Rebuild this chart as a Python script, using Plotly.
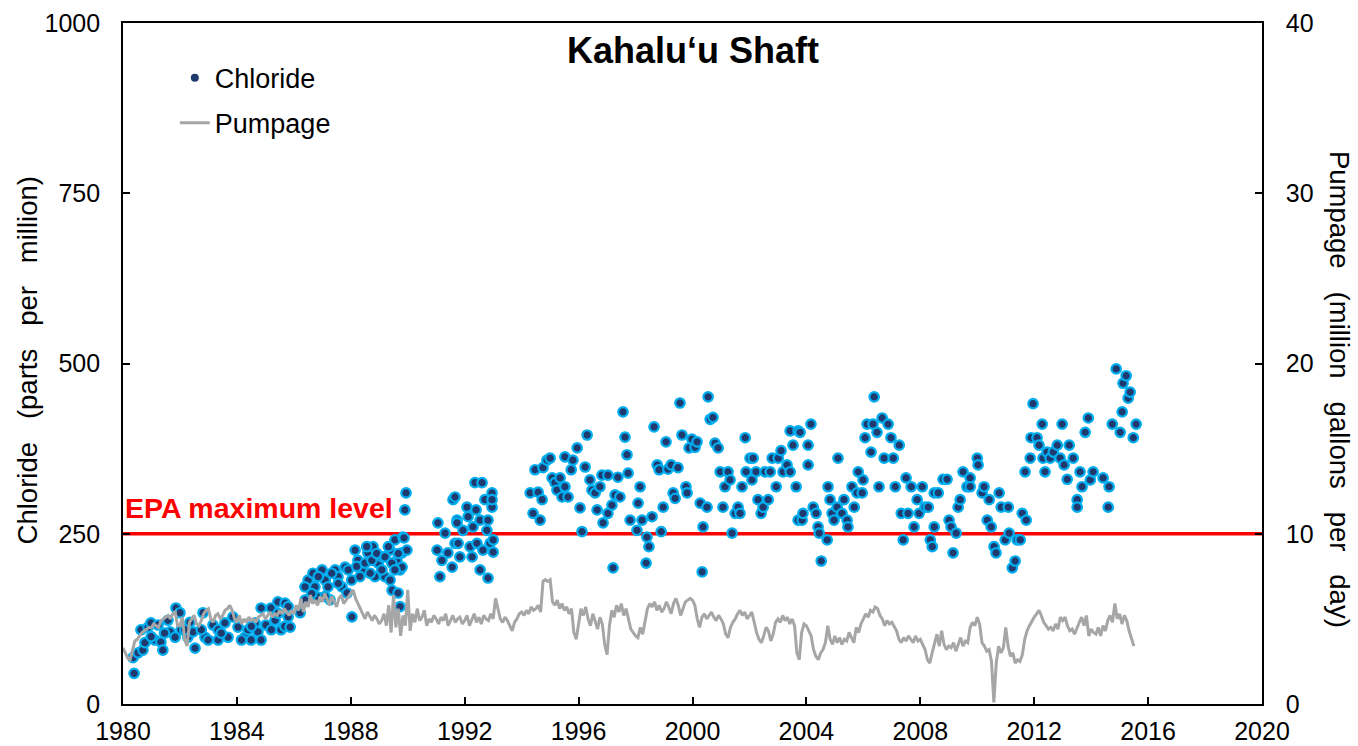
import plotly.graph_objects as go

# ---------------- data ----------------
chloride_year = [
    1980.39, 1980.35, 1980.53, 1980.70, 1980.77, 1980.63, 1980.88, 1980.98, 1981.23, 1981.12,
    1981.33, 1981.40, 1981.58, 1981.65, 1981.83, 1981.86, 1982.00, 1982.04, 1982.28, 1982.35,
    1982.53, 1982.46, 1982.81, 1982.88, 1982.99, 1983.16, 1983.34, 1983.34, 1983.58, 1983.69,
    1983.86, 1984.04, 1984.28, 1984.39, 1984.50, 1984.64, 1984.74, 1984.85, 1984.85, 1985.02,
    1985.20, 1985.34, 1985.44, 1985.55, 1985.69, 1980.99, 1981.46, 1982.17, 1982.75, 1983.45,
    1984.16, 1984.51, 1985.21, 1985.68, 1985.44,
    1985.80, 1985.87, 1985.80, 1986.22, 1986.40, 1986.50, 1986.67, 1986.74, 1986.85, 1986.99,
    1987.10, 1987.20, 1987.27, 1987.45, 1987.55, 1987.69, 1987.80, 1987.87, 1988.04, 1988.15,
    1988.25, 1988.43, 1988.60, 1988.78, 1988.85, 1988.96, 1989.10, 1989.20, 1989.38, 1989.45,
    1989.55, 1989.62, 1989.73, 1989.73, 1989.80, 1989.83, 1989.90, 1989.94, 1989.97, 1989.87,
    1989.80, 1989.66, 1987.33, 1987.56, 1987.91, 1988.03, 1988.21, 1988.32, 1988.50, 1988.68,
    1988.56, 1988.74, 1988.91, 1989.09, 1989.20, 1989.32, 1989.44, 1989.55, 1989.67, 1989.38,
    1986.63, 1986.86, 1986.39, 1987.10,
    1991.06, 1991.03, 1991.13, 1991.20, 1991.31, 1991.41, 1991.56, 1991.59, 1991.73, 1991.66,
    1991.66, 1991.73, 1991.77, 1991.83, 1991.94, 1992.08, 1992.12, 1992.19, 1992.26, 1992.29,
    1992.36, 1992.40, 1992.43, 1992.54, 1992.54, 1992.61, 1992.64, 1992.71, 1992.78, 1992.82,
    1992.82, 1992.89, 1992.96, 1992.96, 1993.00, 1993.00, 1992.96,
    1994.30, 1994.40, 1994.47, 1994.58, 1994.65, 1994.72, 1994.75, 1994.89, 1995.00, 1995.07,
    1995.17, 1995.24, 1995.35, 1995.42, 1995.52, 1995.52, 1995.63, 1995.74, 1995.80, 1995.95,
    1996.05, 1996.12, 1996.23, 1996.30, 1996.40, 1996.47, 1996.58, 1996.65, 1996.75, 1996.82,
    1996.86, 1997.03, 1997.03, 1997.17, 1997.21, 1997.28, 1997.38, 1997.45, 1997.56, 1997.63,
    1997.70, 1997.74, 1997.81,
    1998.05, 1998.16, 1998.09, 1998.23, 1998.40, 1998.47, 1998.37, 1998.58, 1998.65, 1998.76,
    1998.83, 1998.90, 1998.97, 1999.07, 1999.14, 1999.25, 1999.32, 1999.39, 1999.49, 1999.56,
    1999.63, 1999.77, 1999.81, 1999.88, 1999.98, 2000.09, 2000.16, 2000.27, 2000.34, 2000.37,
    2000.51, 2000.55, 2000.62, 2000.72, 2000.79, 2000.90, 2000.97, 2001.07, 2001.14, 2001.25,
    2001.32, 2001.39, 2001.50, 2001.60, 2001.67, 2001.74, 2001.85, 2001.88, 2002.02, 2002.09,
    2002.13, 2002.23, 2002.30, 2002.41, 2002.48, 2002.55, 2002.66, 2002.73, 2002.80, 2002.94,
    2003.01, 2003.11, 2003.18, 2003.32, 2003.43, 2003.43, 2003.53, 2003.64, 2003.71, 2003.71,
    2003.78, 2003.85, 2003.88, 2004.06, 2004.06, 2004.16, 2004.24, 2004.34, 2004.41, 2004.45,
    2004.52, 2004.73, 2004.76, 2004.83, 2004.90, 2004.97, 2005.08, 2005.11, 2005.25, 2005.32,
    2005.43, 2005.46, 2005.60, 2005.68, 2005.78, 2005.82, 2005.96, 2005.99, 2006.06, 2006.13,
    2006.27, 2006.34, 2006.38, 2006.48, 2006.55, 2006.66, 2006.73, 2006.87, 2006.97, 2007.05,
    2007.12, 2007.26, 2007.33, 2007.40, 2007.50, 2007.57, 2007.68, 2007.78, 2007.89, 2007.96,
    2008.07, 2008.17, 2008.28, 2008.35, 2008.42, 2008.49, 2008.49, 2008.63, 2008.80, 2008.94,
    2009.01, 2009.08, 2009.15, 2009.26, 2009.33, 2009.40, 2009.50, 2009.64,
    2009.75, 2009.75, 2010.00, 2010.03, 2010.17, 2010.24, 2010.35, 2010.42, 2010.49, 2010.59,
    2010.66, 2010.77, 2010.84, 2010.98, 2011.09, 2011.12, 2011.23, 2011.33, 2011.40, 2011.51,
    2011.58, 2011.72, 2011.68, 2011.86, 2011.96, 2011.89, 2012.10, 2012.17, 2012.28, 2012.31,
    2012.38, 2012.45, 2012.56, 2012.67, 2012.81, 2012.91, 2012.98, 2013.05, 2013.16, 2013.23,
    2013.37, 2013.51, 2013.51, 2013.61, 2013.68, 2013.79, 2013.90, 2013.97, 2014.07, 2014.42,
    2014.60, 2014.63, 2014.74, 2014.88, 2015.02, 2015.09, 2015.12, 2015.23, 2015.30, 2015.37,
    2015.48, 2015.58,
]

chloride_ppm = [
    45, 68, 75, 79, 90, 109, 113, 119, 116, 94,
    91, 79, 123, 106, 98, 141, 134, 109, 98, 120,
    82, 106, 134, 98, 94, 116, 94, 109, 119, 98,
    128, 113, 98, 109, 94, 119, 106, 141, 94, 116,
    141, 123, 150, 109, 148, 99, 104, 109, 109, 104,
    94, 114, 109, 114, 133,
    143, 113, 128, 134, 153, 182, 192, 172, 157, 197,
    182, 172, 153, 197, 187, 172, 201, 163, 128, 226,
    211, 197, 222, 231, 187, 207, 216, 187, 226, 167,
    241, 211, 143, 197, 222, 245, 285, 310, 226, 244,
    201, 163, 192, 177, 197, 182, 202, 187, 207, 192,
    231, 211, 221, 197, 216, 231, 207, 197, 221, 182,
    162, 187, 172, 158,
    266, 226, 187, 211, 251, 222, 201, 300, 270, 236,
    304, 266, 236, 216, 255, 289, 275, 231, 216, 260,
    325, 285, 236, 270, 197, 325, 226, 300, 255, 185,
    270, 236, 310, 289, 241, 223, 300,
    310, 280, 344, 311, 270, 300, 347, 358, 361, 332,
    325, 314, 332, 304, 319, 363, 304, 344, 358, 376,
    288, 253, 348, 395, 329, 314, 310, 285, 319, 336,
    266, 336, 280, 292, 200, 307, 333, 304, 429, 392,
    366, 339, 270,
    255, 319, 295, 270, 245, 231, 207, 275, 407, 351,
    344, 253, 289, 385, 345, 351, 310, 302, 347, 442,
    395, 319, 310, 376, 389, 377, 385, 295, 194, 260,
    289, 451, 418, 421, 383, 376, 341, 289, 319, 341,
    329, 251, 280, 289, 280, 319, 391, 341, 361, 329,
    361, 341, 300, 280, 289, 341, 300, 341, 361, 319,
    361, 372, 341, 351, 341, 401, 380, 319, 401, 270,
    399, 270, 280, 380, 351, 411, 289, 280, 260, 251,
    210, 241, 319, 300, 280, 270, 289, 361, 280, 300,
    270, 260, 319, 289, 310, 341, 310, 329, 391, 411,
    370, 411, 451, 399, 319, 420, 361, 411, 391, 361,
    319, 380, 280, 241, 332, 280, 319, 260, 300, 280,
    319, 289, 289, 241, 231, 260, 310, 310, 330, 330,
    270, 260, 222, 251, 289, 300, 341, 319,
    332, 319, 361, 351, 310, 319, 270, 300, 260, 231,
    222, 310, 289, 241, 289, 251, 200, 210, 241, 241,
    280, 270, 341, 361, 441, 391, 391, 380, 411, 361,
    341, 370, 361, 370, 380, 361, 411, 351, 330, 380,
    361, 300, 289, 341, 319, 399, 420, 329, 341, 332,
    289, 319, 411, 492, 399, 429, 471, 482, 449, 458,
    391, 411,
]

# Monthly pumpage (million gallons per day), one list per year, Jan 1980 onward
pumpage_by_year = [
    [3.3, 3.0, 2.7, 2.6, 3.2, 3.7, 3.8, 4.0, 4.2, 4.3, 4.4, 4.5],  # 1980
    [4.5, 4.7, 4.6, 4.5, 4.9, 5.0, 5.1, 5.2, 5.0, 5.3, 5.4, 4.6],  # 1981
    [4.6, 5.1, 3.8, 3.4, 4.8, 5.0, 5.2, 4.7, 4.6, 4.9, 5.3, 5.5],  # 1982
    [5.6, 5.0, 4.8, 5.2, 5.3, 5.0, 5.2, 5.5, 5.6, 5.8, 5.5, 5.0],  # 1983
    [4.8, 5.2, 4.7, 5.0, 4.8, 5.1, 4.9, 5.0, 4.8, 5.1, 5.2, 5.3],  # 1984
    [5.0, 5.2, 5.4, 5.1, 5.3, 5.2, 5.5, 5.3, 5.6, 5.4, 5.2, 5.5],  # 1985
    [5.3, 5.8, 5.5, 6.2, 5.4, 6.0, 5.7, 6.4, 5.9, 6.1, 5.8, 6.3],  # 1986
    [6.0, 6.5, 6.2, 5.8, 6.3, 6.0, 5.7, 6.2, 6.4, 5.9, 6.1, 6.3],  # 1987
    [6.5, 6.7, 6.2, 5.9, 5.5, 5.2, 5.0, 5.4, 5.1, 4.9, 5.2, 5.0],  # 1988
    [4.7, 4.9, 5.3, 4.6, 5.8, 4.2, 6.4, 4.5, 5.6, 4.0, 5.2, 4.6],  # 1989
    [6.7, 4.3, 5.3, 4.8, 5.6, 4.9, 5.1, 5.5, 4.6, 5.0, 4.8, 5.2],  # 1990
    [5.0, 4.7, 5.1, 4.9, 5.3, 4.6, 4.9, 5.2, 4.8, 5.0, 5.1, 4.7],  # 1991
    [4.9, 5.2, 4.6, 5.0, 5.3, 4.8, 5.1, 4.7, 5.2, 5.0, 4.9, 5.3],  # 1992
    [5.0, 6.2, 5.5, 5.0, 4.8, 5.1, 4.9, 4.6, 4.3, 4.8, 5.0, 5.3],  # 1993
    [5.4, 5.2, 5.5, 5.3, 5.7, 5.5, 5.6, 5.8, 5.4, 7.2, 7.3, 7.2],  # 1994
    [7.3, 6.0, 5.8, 6.1, 5.6, 5.9, 5.5, 5.7, 5.3, 5.6, 4.2, 3.8],  # 1995
    [4.8, 5.6, 5.2, 5.7, 5.0, 4.6, 5.3, 4.9, 4.4, 5.1, 4.7, 3.5],  # 1996
    [2.9, 4.6, 5.5, 5.1, 5.8, 5.4, 5.9, 5.2, 5.6, 5.0, 4.4, 4.2],  # 1997
    [4.0, 3.9, 4.5, 4.1, 4.8, 5.6, 5.9, 5.7, 6.0, 5.5, 5.8, 5.4],  # 1998
    [5.6, 6.0, 5.7, 5.3, 5.9, 6.2, 5.8, 5.2, 5.6, 6.0, 6.1, 6.2],  # 1999
    [6.1, 5.8, 5.0, 4.5, 5.1, 5.3, 5.0, 5.2, 5.4, 5.1, 4.9, 5.2],  # 2000
    [5.0, 4.7, 4.1, 3.9, 4.5, 4.8, 5.0, 5.3, 5.5, 5.2, 5.4, 5.0],  # 2001
    [5.2, 5.4, 4.8, 4.2, 3.8, 3.6, 4.0, 4.5, 4.3, 3.7, 4.1, 4.8],  # 2002
    [5.0, 4.8, 5.2, 4.9, 5.1, 4.7, 5.0, 4.6, 3.0, 2.6, 4.2, 4.7],  # 2003
    [4.6, 4.3, 4.0, 3.2, 2.8, 2.6, 3.0, 3.2, 3.6, 4.6, 3.8, 3.5],  # 2004
    [4.0, 3.6, 3.9, 3.5, 3.8, 3.7, 4.2, 3.9, 3.6, 4.5, 4.2, 4.7],  # 2005
    [5.0, 5.3, 5.1, 5.5, 5.4, 5.7, 5.6, 5.2, 5.0, 4.6, 4.9, 4.7],  # 2006
    [4.8, 4.5, 4.3, 3.8, 3.6, 3.9, 3.7, 4.0, 3.8, 3.6, 4.0, 3.7],  # 2007
    [3.8, 3.5, 3.2, 2.6, 2.4, 3.0, 3.6, 4.1, 3.4, 4.3, 3.5, 3.2],  # 2008
    [3.4, 3.3, 3.6, 3.1, 3.5, 3.9, 3.4, 3.7, 3.6, 4.5, 4.8, 4.6],  # 2009
    [5.1, 4.7, 3.6, 3.4, 3.1, 3.2, 2.5, 0.1, 2.4, 3.4, 3.0, 3.3],  # 2010
    [4.5, 3.4, 2.8, 3.0, 2.4, 2.6, 2.5, 2.9, 3.8, 4.3, 4.6, 4.9],  # 2011
    [5.1, 5.3, 5.5, 5.2, 4.8, 4.6, 4.4, 4.5, 4.3, 4.7, 4.4, 5.1],  # 2012
    [4.9, 5.1, 4.6, 4.3, 4.4, 4.1, 4.5, 4.8, 5.1, 4.6, 5.2, 4.0],  # 2013
    [4.4, 4.2, 4.1, 4.5, 4.0, 4.6, 4.3, 4.9, 5.2, 4.8, 5.9, 5.0],  # 2014
    [5.3, 4.7, 5.2, 4.9, 4.3, 3.9, 3.4],                          # 2015
]
pumpage_start_year = 1980

epa_max_ppm = 250
x_ticks = [1980, 1984, 1988, 1992, 1996, 2000, 2004, 2008, 2012, 2016, 2020]

# monthly time grid for pumpage
pumpage_mgd = [v for yr in pumpage_by_year for v in yr]
pumpage_year = [pumpage_start_year + i / 12 for i in range(len(pumpage_mgd))]

# ---------------- figure ----------------
FONT = "Liberation Sans, Arial, sans-serif"
DARK = "#1f3a6e"
CYAN = "#00aeef"
GRAY = "#a6a6a6"

fig = go.Figure()

fig.add_trace(go.Scatter(
    x=chloride_year, y=chloride_ppm, mode="markers", name="Chloride",
    marker=dict(size=9.5, color=DARK, line=dict(color=CYAN, width=2.2)),
    showlegend=False, yaxis="y",
))
fig.add_trace(go.Scatter(
    x=pumpage_year, y=pumpage_mgd, mode="lines", name="Pumpage",
    line=dict(color=GRAY, width=3), showlegend=False, yaxis="y2",
))
# legend entries
fig.add_trace(go.Scatter(
    x=[None], y=[None], mode="markers", name="Chloride",
    marker=dict(size=8, color=DARK), legend="legend", yaxis="y",
))
fig.add_trace(go.Scatter(
    x=[None], y=[None], mode="lines", name="Pumpage",
    line=dict(color=GRAY, width=3), legend="legend2", yaxis="y2",
))

fig.add_shape(type="line", xref="paper", x0=0, x1=1, yref="y", y0=epa_max_ppm, y1=epa_max_ppm,
              line=dict(color="#ff0000", width=3.5), layer="below")

fig.add_annotation(text="<b>EPA maximum level</b>", xref="paper", x=0.0, xanchor="left",
                   yref="y", y=epa_max_ppm + 38, yanchor="middle", showarrow=False,
                   font=dict(family=FONT, size=28.5, color="#ff0000"))

fig.add_annotation(text="<b>Kahalu\u2018u Shaft</b>", xref="paper", x=0.5, xanchor="center",
                   yref="paper", y=0.96, yanchor="middle", showarrow=False,
                   font=dict(family=FONT, size=36, color="black"))

sp = "\u00a0\u00a0 "
fig.add_annotation(text=sp.join(["Chloride", "(parts", "per", "million)"]),
                   xref="paper", x=-0.084, xanchor="center", yref="paper", y=0.505,
                   yanchor="middle", textangle=-90, showarrow=False,
                   font=dict(family=FONT, size=27.5, color="black"))
fig.add_annotation(text=sp.join(["Pumpage", "(million", "gallons", "per", "day)"]),
                   xref="paper", x=1.068, xanchor="center", yref="paper", y=0.462,
                   yanchor="middle", textangle=90, showarrow=False,
                   font=dict(family=FONT, size=27.5, color="black"))

axis_common = dict(showline=True, linecolor="black", linewidth=1.6, ticks="inside",
                   ticklen=7, tickcolor="black", tickwidth=1.5, showgrid=False, zeroline=False,
                   automargin=False,
                   tickfont=dict(family=FONT, size=25, color="black"))

fig.update_layout(
    width=1358, height=746,
    margin=dict(l=123, r=96, t=23, b=42, autoexpand=False),
    paper_bgcolor="white", plot_bgcolor="white",
    xaxis=dict(range=[1980, 2020], tickvals=x_ticks, mirror=True, ticklabelstandoff=4,
               **axis_common),
    yaxis=dict(range=[0, 1000], tickvals=[0, 250, 500, 750, 1000], ticklabelstandoff=16,
               **axis_common),
    yaxis2=dict(range=[0, 40], tickvals=[0, 10, 20, 30, 40], overlaying="y", side="right",
                ticklabelstandoff=17, **axis_common),
    legend=dict(x=0.0455, y=0.919, xanchor="left", yanchor="middle", bgcolor="rgba(0,0,0,0)",
                font=dict(family=FONT, size=27, color="black")),
    legend2=dict(x=0.0455, y=0.853, xanchor="left", yanchor="middle", bgcolor="rgba(0,0,0,0)",
                 font=dict(family=FONT, size=27, color="black")),
    showlegend=True,
)

fig.write_html("out.html", config={"displayModeBar": False},
               post_script="document.body.style.margin='0';document.body.style.overflow='hidden';")
